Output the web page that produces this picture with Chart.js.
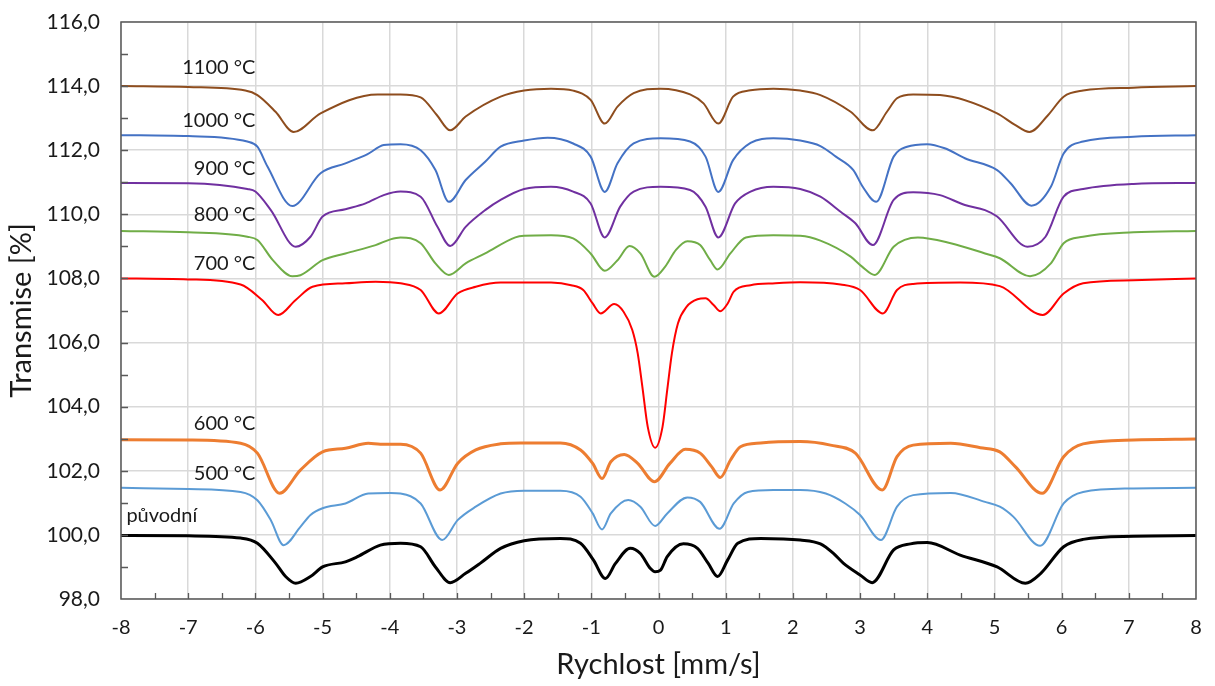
<!DOCTYPE html>
<html>
<head>
<meta charset="utf-8">
<script src="https://cdn.jsdelivr.net/npm/chart.js@4.4.1/dist/chart.umd.min.js"></script>
<style>
  body { margin: 0; background: #fff; }
  #wrap { width: 1215px; height: 686px; }
</style>
</head>
<body>
<div id="wrap"><canvas id="spectraChart" width="1215" height="686"></canvas></div>
<script>
// spectra: [velocity mm/s, transmission %]
const s1100 = [[-8,114.0],[-7,113.97],[-6.15,113.86],[-5.97,113.72],[-5.7,113.2],[-5.43,112.57],[-5.03,113.15],[-4.18,113.74],[-3.84,113.74],[-3.54,113.65],[-3.3,113.1],[-3.1,112.62],[-2.87,113.05],[-2.35,113.67],[-2.0,113.86],[-1.6,113.92],[-1.27,113.86],[-1.01,113.57],[-0.8,112.83],[-0.61,113.36],[-0.37,113.78],[0.03,113.92],[0.47,113.74],[0.67,113.46],[0.89,112.83],[1.11,113.67],[1.37,113.87],[1.71,113.92],[2.11,113.86],[2.41,113.72],[2.86,113.2],[3.19,112.62],[3.4,113.2],[3.55,113.62],[3.79,113.74],[4.19,113.72],[5.04,113.15],[5.3,112.8],[5.52,112.57],[5.8,113.1],[6.03,113.67],[6.32,113.86],[7.07,113.95],[8,114.0]];
const s1000 = [[-8,112.47],[-7,112.44],[-6.12,112.27],[-5.97,112.11],[-5.82,111.49],[-5.45,110.26],[-5.03,111.28],[-4.66,111.59],[-4.33,111.88],[-4.09,112.16],[-3.84,112.19],[-3.54,112.0],[-3.32,111.38],[-3.12,110.39],[-2.87,111.07],[-2.58,111.64],[-2.35,112.11],[-2.0,112.3],[-1.65,112.39],[-1.27,112.21],[-1.01,111.8],[-0.8,110.7],[-0.61,111.59],[-0.37,112.21],[0.03,112.37],[0.47,112.27],[0.7,111.8],[0.89,110.7],[1.11,111.69],[1.37,112.23],[1.71,112.37],[2.11,112.3],[2.41,112.13],[2.64,111.8],[2.9,111.38],[3.04,110.86],[3.24,110.39],[3.5,111.8],[3.7,112.11],[4.0,112.19],[4.26,112.06],[4.56,111.75],[5.04,111.38],[5.24,110.97],[5.55,110.27],[5.84,110.86],[6.03,111.9],[6.32,112.27],[7.07,112.42],[8,112.47]];
const s900 = [[-8,110.98],[-7,110.97],[-6.12,110.79],[-6.0,110.71],[-5.77,110.13],[-5.4,108.99],[-5.18,109.3],[-5.0,109.93],[-4.66,110.16],[-4.36,110.34],[-4.09,110.6],[-3.84,110.71],[-3.54,110.55],[-3.29,109.61],[-3.1,109.01],[-2.87,109.61],[-2.58,110.13],[-2.35,110.45],[-2.0,110.79],[-1.6,110.86],[-1.27,110.71],[-1.01,110.34],[-0.8,109.28],[-0.57,110.24],[-0.37,110.71],[0.03,110.86],[0.47,110.76],[0.7,110.24],[0.89,109.28],[1.14,110.34],[1.37,110.71],[1.71,110.86],[2.11,110.79],[2.41,110.55],[2.71,110.08],[2.93,109.72],[3.19,109.04],[3.5,110.45],[3.79,110.69],[4.19,110.6],[4.56,110.29],[4.86,110.13],[5.04,109.93],[5.49,108.99],[5.76,109.3],[6.03,110.55],[6.32,110.79],[7.07,110.95],[8,110.98]];
const s800 = [[-8,109.48],[-7,109.44],[-6.12,109.3],[-5.97,109.2],[-5.74,108.57],[-5.45,108.07],[-5.33,108.1],[-5.0,108.57],[-4.66,108.78],[-4.21,109.04],[-3.99,109.22],[-3.84,109.28],[-3.54,109.1],[-3.32,108.47],[-3.12,108.11],[-2.87,108.47],[-2.58,108.78],[-2.13,109.28],[-2.0,109.33],[-1.6,109.35],[-1.27,109.25],[-1.01,108.78],[-0.8,108.24],[-0.61,108.57],[-0.43,109.01],[-0.27,108.78],[-0.06,108.05],[0.1,108.37],[0.26,108.89],[0.43,109.16],[0.62,109.04],[0.77,108.57],[0.88,108.28],[1.07,108.78],[1.3,109.28],[1.71,109.35],[2.11,109.33],[2.41,109.18],[2.86,108.68],[3.03,108.37],[3.22,108.11],[3.5,108.99],[3.86,109.28],[4.35,109.1],[4.86,108.78],[5.08,108.63],[5.53,108.07],[5.84,108.47],[6.03,109.1],[6.32,109.3],[7.07,109.44],[8,109.48]];
const s700 = [[-8,108.0],[-7,107.97],[-6.22,107.81],[-5.9,107.33],[-5.66,106.86],[-5.4,107.33],[-5.15,107.74],[-4.66,107.85],[-4.21,107.9],[-3.84,107.85],[-3.54,107.64],[-3.27,106.91],[-2.99,107.53],[-2.72,107.74],[-2.35,107.87],[-1.6,107.87],[-1.3,107.79],[-1.12,107.64],[-0.98,107.22],[-0.86,106.91],[-0.66,107.2],[-0.52,106.96],[-0.39,106.39],[-0.31,105.67],[-0.24,104.62],[-0.16,103.37],[-0.05,102.72],[0.06,103.37],[0.13,104.52],[0.2,105.67],[0.29,106.6],[0.42,107.12],[0.58,107.35],[0.7,107.38],[0.82,107.17],[0.92,106.98],[1.03,107.22],[1.12,107.59],[1.37,107.79],[1.74,107.85],[2.11,107.88],[2.71,107.81],[3.0,107.64],[3.34,106.91],[3.55,107.64],[3.79,107.83],[4.49,107.87],[5.08,107.76],[5.72,106.86],[6.03,107.53],[6.32,107.85],[7.07,107.94],[8,108.0]];
const s600 = [[-8,102.97],[-7,102.96],[-6.22,102.86],[-5.97,102.55],[-5.64,101.3],[-5.33,102.02],[-5.0,102.59],[-4.66,102.7],[-4.32,102.86],[-4.14,102.83],[-3.84,102.83],[-3.54,102.55],[-3.25,101.4],[-2.99,102.23],[-2.72,102.65],[-2.35,102.84],[-2.05,102.87],[-1.46,102.87],[-1.16,102.65],[-0.98,102.23],[-0.84,101.76],[-0.71,102.28],[-0.51,102.51],[-0.31,102.23],[-0.06,101.66],[0.17,102.23],[0.4,102.67],[0.62,102.55],[0.79,102.13],[0.92,101.79],[1.07,102.33],[1.22,102.75],[1.52,102.87],[2.11,102.91],[2.56,102.8],[2.93,102.55],[3.33,101.4],[3.55,102.44],[3.79,102.8],[4.35,102.86],[4.79,102.72],[5.08,102.59],[5.31,102.13],[5.71,101.3],[6.03,102.44],[6.32,102.84],[7.07,102.96],[8,102.99]];
const s500 = [[-8,101.47],[-7,101.43],[-6.22,101.34],[-5.97,101.08],[-5.77,100.46],[-5.58,99.68],[-5.33,100.25],[-5.18,100.62],[-5.0,100.83],[-4.66,100.98],[-4.32,101.29],[-3.99,101.31],[-3.84,101.29],[-3.54,100.98],[-3.22,99.84],[-2.99,100.46],[-2.72,100.88],[-2.35,101.29],[-2.0,101.38],[-1.46,101.38],[-1.16,101.19],[-0.98,100.67],[-0.84,100.17],[-0.71,100.67],[-0.45,101.09],[-0.27,100.88],[-0.05,100.28],[0.13,100.67],[0.43,101.17],[0.62,101.03],[0.91,100.19],[1.12,100.98],[1.33,101.34],[1.71,101.4],[2.11,101.4],[2.49,101.29],[2.78,100.98],[3.0,100.62],[3.31,99.84],[3.55,100.88],[3.79,101.24],[4.35,101.31],[4.86,101.03],[5.08,100.88],[5.28,100.57],[5.68,99.66],[6.03,100.98],[6.32,101.34],[7.07,101.45],[8,101.47]];
const sOrig = [[-8,99.98],[-7,99.97],[-6.22,99.9],[-5.97,99.74],[-5.7,99.12],[-5.55,98.7],[-5.4,98.49],[-5.18,98.7],[-5.0,99.0],[-4.66,99.16],[-4.48,99.32],[-4.14,99.68],[-3.84,99.74],[-3.54,99.63],[-3.32,99.0],[-3.1,98.51],[-2.87,98.8],[-2.65,99.12],[-2.35,99.58],[-2.0,99.82],[-1.46,99.89],[-1.16,99.74],[-0.97,99.22],[-0.79,98.64],[-0.64,99.11],[-0.42,99.58],[-0.27,99.42],[-0.12,98.95],[-0.05,98.85],[0.03,98.9],[0.13,99.32],[0.37,99.72],[0.58,99.58],[0.74,99.11],[0.88,98.7],[1.03,99.22],[1.18,99.74],[1.52,99.89],[2.11,99.84],[2.41,99.72],[2.6,99.43],[2.75,99.12],[3.0,98.75],[3.18,98.51],[3.5,99.53],[3.75,99.72],[4.0,99.76],[4.49,99.37],[5.04,99.0],[5.46,98.49],[5.69,98.8],[6.03,99.63],[6.32,99.86],[7.07,99.96],[8,99.98]];

const seriesNames = ['1100 °C','1000 °C','900 °C','800 °C','700 °C','600 °C','500 °C','původní'];
const seriesData = [s1100, s1000, s900, s800, s700, s600, s500, sOrig];
const seriesColors = ['#8e4d1e','#4472c4','#7030a0','#70ad47','#ff0000','#ed7d31','#5b9bd5','#000000'];
const seriesWidths = [2, 2, 2, 2, 2, 3, 2, 3];

const FONT = 'Lato, "Open Sans", sans-serif';

// series name labels, placed next to each curve
const labelSpots = [
  {text:'1100 °C', x:-6, y:114.57, align:'right'},
  {text:'1000 °C', x:-6, y:112.94, align:'right'},
  {text:'900 °C', x:-6, y:111.44, align:'right'},
  {text:'800 °C', x:-6, y:109.98, align:'right'},
  {text:'700 °C', x:-6, y:108.45, align:'right'},
  {text:'600 °C', x:-6, y:103.46, align:'right'},
  {text:'500 °C', x:-6, y:101.9, align:'right'},
  {text:'původní', x:-7.92, y:100.6, align:'left'}
];

const frame = {
  id: 'frame',
  afterDraw(chart) {
    const c = chart.ctx, a = chart.chartArea;
    const xs = chart.scales.x, ys = chart.scales.y;
    c.save();
    // inward minor ticks
    c.strokeStyle = '#595959';
    c.lineWidth = 1.3;
    c.beginPath();
    for (let v = -7.5; v < 8; v += 0.5) {
      const px = Math.round(xs.getPixelForValue(v)) + 0.5;
      c.moveTo(px, a.bottom); c.lineTo(px, a.bottom - 6);
    }
    for (let v = 99; v < 116; v += 1) {
      const py = Math.round(ys.getPixelForValue(v)) + 0.5;
      c.moveTo(a.left, py); c.lineTo(a.left + 7, py);
    }
    c.stroke();
    // box
    c.lineWidth = 1.5;
    c.strokeRect(a.left, a.top, a.right - a.left, a.bottom - a.top);
    // series labels
    c.fillStyle = '#1a1a1a';
    c.font = '20px ' + FONT;
    c.textBaseline = 'middle';
    labelSpots.forEach(l => {
      c.textAlign = l.align;
      c.fillText(l.text, xs.getPixelForValue(l.x), ys.getPixelForValue(l.y));
    });
    c.restore();
  }
};

const datasets = seriesData.map((pts, i) => ({
  label: seriesNames[i],
  data: pts.map(p => ({x: p[0], y: p[1]})),
  borderColor: seriesColors[i],
  backgroundColor: seriesColors[i],
  borderWidth: seriesWidths[i],
  pointRadius: 0,
  cubicInterpolationMode: 'monotone',
  fill: false
}));

const ctx = document.getElementById('spectraChart').getContext('2d');
new Chart(ctx, {
  type: 'line',
  data: { datasets: datasets },
  plugins: [frame],
  options: {
    responsive: false,
    animation: false,
    layout: { padding: { top: 22, right: 19, left: 0, bottom: 0 } },
    plugins: { legend: { display: false }, tooltip: { enabled: false } },
    scales: {
      x: {
        type: 'linear', min: -8, max: 8,
        ticks: { stepSize: 1, color: '#1a1a1a', font: { family: FONT, size: 20 }, padding: 17, maxRotation: 0 },
        grid: { color: '#d9d9d9', lineWidth: 1.5, drawTicks: false },
        border: { display: false },
        title: { display: true, text: 'Rychlost [mm/s]', color: '#1a1a1a', font: { family: FONT, size: 29 }, padding: { top: 4 } },
        afterFit(scale) { scale.height = 87; scale.paddingLeft = 0; scale.paddingRight = 0; }
      },
      y: {
        min: 98, max: 116,
        ticks: { stepSize: 2, color: '#1a1a1a', font: { family: FONT, size: 21 }, padding: 21,
          callback: v => v.toFixed(1).replace('.', ',') },
        grid: { color: '#d9d9d9', lineWidth: 1.5, drawTicks: false },
        border: { display: false },
        title: { display: true, text: 'Transmise [%]', color: '#1a1a1a', font: { family: FONT, size: 29 }, padding: { bottom: 0, top: 4 } },
        afterFit(scale) { scale.width = 121; scale.paddingTop = 0; scale.paddingBottom = 0; }
      }
    }
  }
});
</script>
</body>
</html>
